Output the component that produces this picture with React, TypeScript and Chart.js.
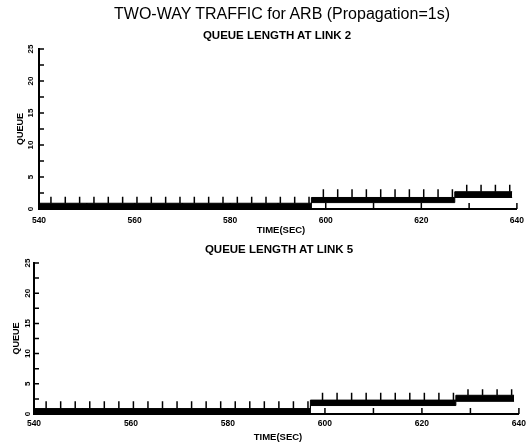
import React, { useEffect, useRef } from 'react';
import { Chart, registerables } from 'chart.js';

Chart.register(...registerables);

const FONT = '"Liberation Sans", Arial, sans-serif';

// Axis ticks
const X_LABEL_TICKS = [540, 560, 580, 600, 620, 640];
const X_MINOR_TICKS = [540, 550, 560, 570, 580, 590, 600, 610, 620, 630, 640];
const Y_LABEL_TICKS = [0, 5, 10, 15, 20, 25];
const Y_MINOR_TICKS = [0, 2.5, 5, 7.5, 10, 12.5, 15, 17.5, 20, 22.5, 25];

// Queue level segments (time boundaries, sec)
const STEP_TIMES = [540, 597, 627, 639];

// Link 2: band low / band high / spike peak per segment
const LINK2_LOW = [0, 1.0, 1.8];
const LINK2_HIGH = [0.9, 1.8, 2.7];
const LINK2_PEAK = [1.9, 3.1, 3.8];

// Link 5
const LINK5_LOW = [0, 1.4, 2.1];
const LINK5_HIGH = [0.9, 2.3, 3.1];
const LINK5_PEAK = [2.1, 3.5, 4.1];

// Periodic queue spikes (sec)
const SPIKE_TIMES = [
  542.5, 545.5, 548.5, 551.5, 554.5, 557.5, 560.5, 563.5, 566.5, 569.5, 572.5,
  575.5, 578.5, 581.5, 584.5, 587.5, 590.5, 593.5, 596.5, 599.5, 602.5, 605.5,
  608.5, 611.5, 614.5, 617.5, 620.5, 623.5, 626.5, 629.5, 632.5, 635.5, 638.5,
];

function segIndex(t: number): number {
  for (let i = 0; i < STEP_TIMES.length - 1; i++) {
    if (t >= STEP_TIMES[i] && t < STEP_TIMES[i + 1]) return i;
  }
  return STEP_TIMES.length - 2;
}

function stepPoints(levels: number[]) {
  const pts: { x: number; y: number }[] = [];
  levels.forEach((v, i) => {
    pts.push({ x: STEP_TIMES[i], y: v });
    pts.push({ x: STEP_TIMES[i + 1], y: v });
  });
  return pts;
}

function spikePoints(high: number[], peak: number[]) {
  const pts: { x: number; y: number | null }[] = [];
  SPIKE_TIMES.forEach((t) => {
    const i = segIndex(t);
    pts.push({ x: t, y: high[i] });
    pts.push({ x: t, y: peak[i] });
    pts.push({ x: t, y: null });
  });
  return pts;
}

const axisDecor = {
  id: 'axisDecor',
  afterDatasetsDraw(chart: any, _args: any, opts: any) {
    const { ctx, chartArea } = chart;
    const xs = chart.scales.x;
    const ys = chart.scales.y;
    ctx.save();
    ctx.strokeStyle = '#000';
    ctx.lineWidth = 1.5;
    ctx.beginPath();
    X_MINOR_TICKS.forEach((v) => {
      const px = xs.getPixelForValue(v);
      ctx.moveTo(px, chartArea.bottom);
      ctx.lineTo(px, chartArea.bottom - 6);
    });
    Y_MINOR_TICKS.forEach((v) => {
      const py = ys.getPixelForValue(v);
      ctx.moveTo(chartArea.left, py);
      ctx.lineTo(chartArea.left + 5, py);
    });
    ctx.stroke();
    ctx.fillStyle = '#000';
    ctx.font = `bold 8px ${FONT}`;
    ctx.textAlign = 'center';
    ctx.textBaseline = 'middle';
    Y_LABEL_TICKS.forEach((v) => {
      const py = ys.getPixelForValue(v);
      ctx.save();
      ctx.translate(opts.labelX, py);
      ctx.rotate(-Math.PI / 2);
      ctx.fillText(String(v), 0, 0);
      ctx.restore();
    });
    ctx.restore();
  },
};

type PanelGeom = {
  padTop: number;
  padRight: number;
  xH: number;
  yW: number;
  xPad: number;
  titlePad: number;
  labelX: number;
};

function makeConfig(low: number[], high: number[], peak: number[], g: PanelGeom): any {
  return {
    type: 'line',
    data: {
      datasets: [
        {
          label: 'low',
          data: stepPoints(low),
          borderColor: '#000',
          borderWidth: 1,
          pointRadius: 0,
          fill: false,
        },
        {
          label: 'queue',
          data: stepPoints(high),
          borderColor: '#000',
          borderWidth: 1,
          pointRadius: 0,
          fill: '-1',
          backgroundColor: '#000',
        },
        {
          label: 'spikes',
          data: spikePoints(high, peak),
          borderColor: '#000',
          borderWidth: 1.5,
          pointRadius: 0,
          spanGaps: false,
          fill: false,
        },
      ],
    },
    options: {
      responsive: false,
      animation: false,
      devicePixelRatio: 1,
      layout: { padding: { top: g.padTop, right: g.padRight, left: 0, bottom: 0 } },
      plugins: {
        legend: { display: false },
        tooltip: { enabled: false },
        title: { display: false },
        axisDecor: { labelX: g.labelX },
      },
      scales: {
        x: {
          type: 'linear',
          min: 540,
          max: 640,
          offset: false,
          afterBuildTicks: (s: any) => {
            s.ticks = X_LABEL_TICKS.map((v) => ({ value: v }));
          },
          ticks: {
            color: '#000',
            font: { family: FONT, size: 8.5, weight: 'bold' },
            padding: g.xPad,
            maxRotation: 0,
            autoSkip: false,
          },
          grid: { display: false, drawTicks: false },
          border: { display: true, color: '#000', width: 2 },
          afterFit: (s: any) => {
            s.height = g.xH;
          },
        },
        y: {
          type: 'linear',
          min: 0,
          max: 25,
          ticks: { display: false },
          grid: { display: false, drawTicks: false },
          border: { display: true, color: '#000', width: 2 },
          title: {
            display: true,
            text: 'QUEUE',
            color: '#000',
            font: { family: FONT, size: 9, weight: 'bold' },
            padding: { top: g.titlePad, bottom: 0 },
          },
          afterFit: (s: any) => {
            s.width = g.yW;
          },
        },
      },
    },
    plugins: [axisDecor],
  };
}

function Label(props: { x: number; baseline: number; size: number; bold?: boolean; text: string }) {
  const { x, baseline, size, bold, text } = props;
  return (
    <div
      style={{
        position: 'absolute',
        left: x,
        top: baseline - 0.8465 * size,
        transform: 'translateX(-50%)',
        fontFamily: FONT,
        fontSize: size,
        lineHeight: `${size}px`,
        fontWeight: bold ? 'bold' : 'normal',
        whiteSpace: 'nowrap',
        color: '#000',
      }}
    >
      {text}
    </div>
  );
}

export default function App() {
  const topRef = useRef<HTMLCanvasElement>(null);
  const botRef = useRef<HTMLCanvasElement>(null);

  useEffect(() => {
    const c1 = new Chart(
      topRef.current as HTMLCanvasElement,
      makeConfig(LINK2_LOW, LINK2_HIGH, LINK2_PEAK, {
        padTop: 49,
        padRight: 10,
        xH: 31,
        yW: 39,
        xPad: 7,
        titlePad: 15.5,
        labelX: 30.5,
      })
    );
    const c2 = new Chart(
      botRef.current as HTMLCanvasElement,
      makeConfig(LINK5_LOW, LINK5_HIGH, LINK5_PEAK, {
        padTop: 23,
        padRight: 12,
        xH: 32,
        yW: 34,
        xPad: 5,
        titlePad: 11.5,
        labelX: 27.5,
      })
    );
    return () => {
      c1.destroy();
      c2.destroy();
    };
  }, []);

  return (
    <div
      style={{
        position: 'absolute',
        left: 0,
        top: 0,
        width: 531,
        height: 446,
        background: '#fff',
        overflow: 'hidden',
      }}
    >
      <canvas ref={topRef} width={531} height={240} style={{ position: 'absolute', left: 0, top: 0 }} />
      <canvas ref={botRef} width={531} height={206} style={{ position: 'absolute', left: 0, top: 240 }} />
      <Label x={282} baseline={20} size={16} text="TWO-WAY TRAFFIC for ARB (Propagation=1s)" />
      <Label x={277} baseline={40} size={11.5} bold text="QUEUE LENGTH AT LINK 2" />
      <Label x={281} baseline={233} size={9.5} bold text="TIME(SEC)" />
      <Label x={279} baseline={254} size={11.5} bold text="QUEUE LENGTH AT LINK 5" />
      <Label x={278} baseline={440} size={9.5} bold text="TIME(SEC)" />
    </div>
  );
}
